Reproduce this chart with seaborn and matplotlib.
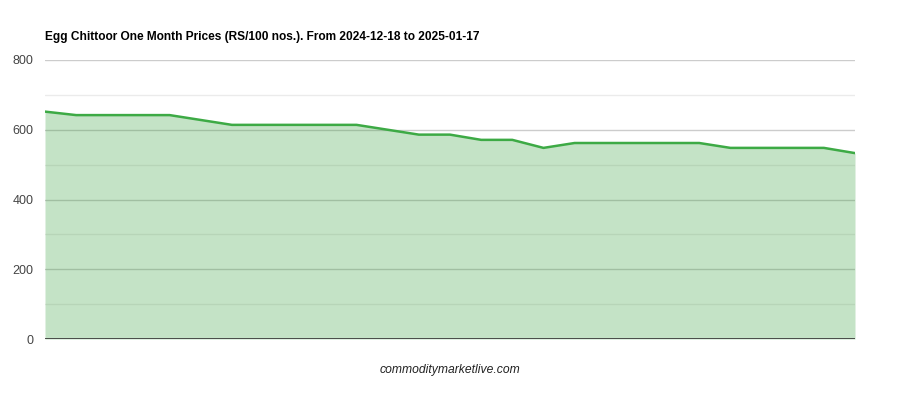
import seaborn as sns
import matplotlib.pyplot as plt
import matplotlib
import pandas as pd

matplotlib.use('agg')

# prices (RS/100 nos.), one per data point
prices = [652, 642, 642, 642, 642, 628, 614, 614, 614, 614, 614, 600, 586, 586,
          571, 571, 548, 562, 562, 562, 562, 562, 548, 548, 548, 548, 533]
y_ticks = [0, 200, 400, 600, 800]
y_minor = [100, 300, 500, 700]
title = "Egg Chittoor One Month Prices (RS/100 nos.). From 2024-12-18 to 2025-01-17"
footer = "commoditymarketlive.com"

df = pd.DataFrame({'idx': range(len(prices)), 'price': prices})

sns.set_style('white')
plt.rcParams['font.family'] = ['Liberation Sans', 'DejaVu Sans']

fig = plt.figure(figsize=(9, 4), dpi=100)
ax = fig.add_axes([0.05, 0.1525, 0.9, 0.6975])

for v in y_ticks[1:]:
    ax.axhline(v, color='#cccccc', lw=1, zorder=0)
for v in y_minor:
    ax.axhline(v, color='#ebebeb', lw=1, zorder=0)

ax.fill_between(df['idx'], df['price'], 0, color='#43a547', alpha=0.31, lw=0, zorder=1)
sns.lineplot(data=df, x='idx', y='price', ax=ax, color='#3daa45', lw=1.8, zorder=2)
ax.axhline(0, color='#333333', lw=1.2, zorder=3)

ax.set_xlim(0, len(prices) - 1)
ax.set_ylim(0, 800)
ax.set_yticks(y_ticks)
ax.set_xticks([])
ax.set_xlabel('')
ax.set_ylabel('')
ax.tick_params(axis='y', length=0, labelsize=9, labelcolor='#444444', pad=8.5)
for s in ax.spines.values():
    s.set_visible(False)

fig.text(0.05, 0.908, title, fontsize=8.6, fontweight='bold', color='#000000', va='center', ha='left')
fig.text(0.5, 0.074, footer, fontsize=8.7, style='italic', color='#222222', va='center', ha='center')

fig.savefig('out.png', dpi=100)
plt.close(fig)
